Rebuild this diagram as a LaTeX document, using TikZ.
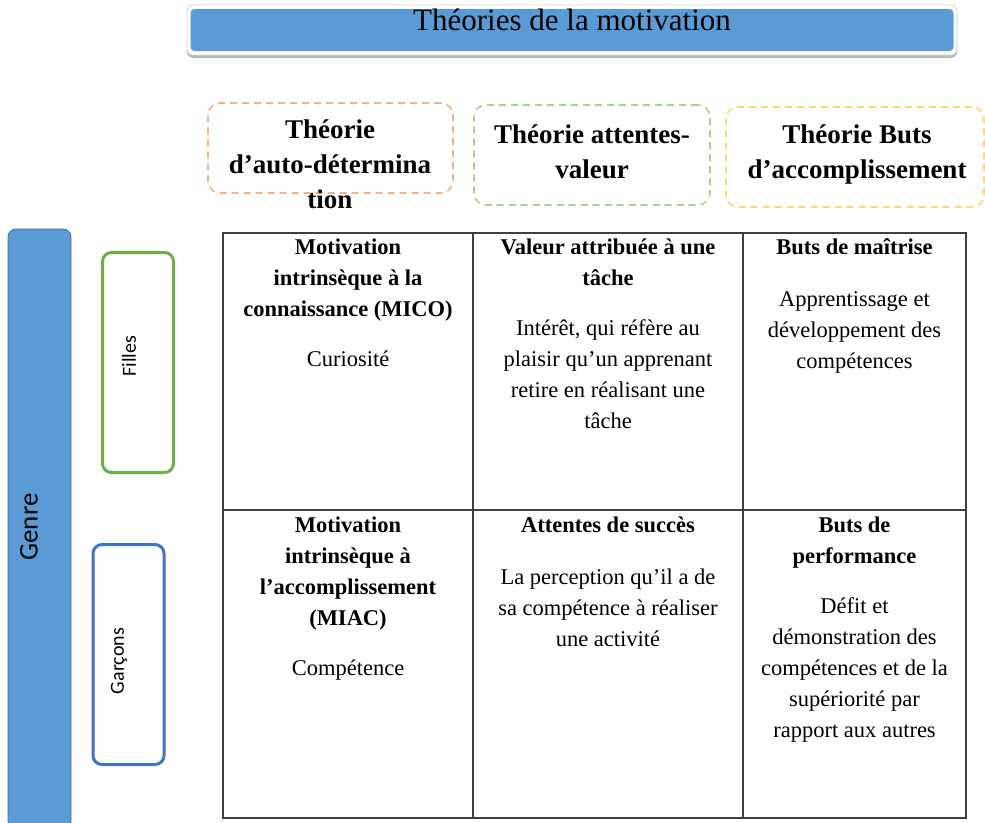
\documentclass[tikz,border=0pt]{standalone}
\usepackage{fontspec}
\setmainfont{Liberation Serif}
\newfontfamily\calibrifont{Carlito}
\usetikzlibrary{positioning, calc, shadows}
\definecolor{barblue}{HTML}{5B9BD5}
\definecolor{baredge}{HTML}{41719C}
\definecolor{fillegreen}{HTML}{70AD47}
\definecolor{garconblue}{HTML}{4472C4}
\definecolor{sdtorange}{HTML}{F4B183}
\definecolor{evgreen}{HTML}{A9D18E}
\definecolor{butyellow}{HTML}{FFD966}
\definecolor{gridgray}{HTML}{404040}

\begin{document}
\begin{tikzpicture}[x=1pt, y=-1pt,
  titleframe/.style={rectangle, rounded corners=6pt, draw=gray!35, line width=0.8pt, fill=white, minimum width=770pt, minimum height=50pt, inner sep=0pt, drop shadow={shadow xshift=0pt, shadow yshift=-3pt, fill=gray!55, opacity=1}},
  titlebar/.style={rectangle, rounded corners=4pt, fill=barblue, minimum width=763pt, minimum height=42pt, inner sep=0pt},
  headbox/.style={rectangle, rounded corners=12pt, dash pattern=on 7pt off 5pt, line width=1.6pt, inner sep=0pt},
  headtxt/.style={align=center, inner sep=0pt, anchor=north, font=\fontsize{27}{35}\selectfont\bfseries},
  cell/.style={rectangle, draw=gridgray, line width=1.3pt, inner sep=0pt, minimum height=#1},
  celltxt/.style={align=center, inner sep=0pt, anchor=north, font=\fontsize{22.5}{31}\selectfont},
  sidebox/.style={rectangle, rounded corners=9pt, line width=3pt, fill=white, inner sep=0pt, minimum width=71pt, minimum height=220pt},
  sidetxt/.style={rotate=90, inner sep=0pt, font=\calibrifont\fontsize{20}{24}\selectfont}
]
  \useasboundingbox (0,0) rectangle (985,822);

  \node[titleframe] (titre) at (572,30) {};
  \node[titlebar] (titrefond) at (572,30) {};
  \node[font=\fontsize{31}{36}\selectfont, inner sep=0pt, anchor=north] (titretxt) at (572,9) {Théories de la motivation};

  \node[headbox, draw=sdtorange, minimum width=245pt, minimum height=90pt] (h1) at (330.5,148) {};
  \node[headbox, draw=evgreen, minimum width=236pt, minimum height=100pt] (h2) at (592,155) {};
  \node[headbox, draw=butyellow, minimum width=258pt, minimum height=100pt] (h3) at (855,157) {};
  \node[headtxt] (h1txt) at (330,120) {Théorie\\d’auto-détermina\\tion};
  \node[headtxt] (h2txt) at (592,125) {Théorie attentes-\\valeur};
  \node[headtxt] (h3txt) at (857,125) {Théorie Buts\\d’accomplissement};

  \node[rectangle, rounded corners=8pt, draw=baredge, fill=barblue, line width=0.8pt, minimum width=63pt, minimum height=600pt, inner sep=0pt] (genre) at (39.5,529) {};
  \node[sidetxt, font=\calibrifont\fontsize{27}{30}\selectfont] (genretxt) at (29,527) {Genre};
  \node[sidebox, draw=fillegreen] (filles) at (138,362.5) {};
  \node[sidetxt] (fillestxt) at (129,356) {Filles};
  \node[sidebox, draw=garconblue] (garcons) at (128.5,654.5) {};
  \node[sidetxt] (garconstxt) at (119,661) {Garçons};

  \node[cell=277pt, minimum width=250pt] (c11) at (348,371.5) {};
  \node[cell=277pt, minimum width=270pt] (c12) at (608,371.5) {};
  \node[cell=277pt, minimum width=223pt] (c13) at (854.5,371.5) {};
  \node[cell=308pt, minimum width=250pt] (c21) at (348,664) {};
  \node[cell=308pt, minimum width=270pt] (c22) at (608,664) {};
  \node[cell=308pt, minimum width=223pt] (c23) at (854.5,664) {};

  \node[celltxt, below=6pt of c11.north] (t11) {\textbf{Motivation}\\\textbf{intrinsèque à la}\\\textbf{connaissance (MICO)}\\[19pt]Curiosité};
  \node[celltxt, below=6pt of c12.north] (t12) {\textbf{Valeur attribuée à une}\\\textbf{tâche}\\[19pt]Intérêt, qui réfère au\\plaisir qu’un apprenant\\retire en réalisant une\\tâche};
  \node[celltxt, below=6pt of c13.north] (t13) {\textbf{Buts de maîtrise}\\[21pt]Apprentissage et\\développement des\\compétences};
  \node[celltxt, below=7pt of c21.north] (t21) {\textbf{Motivation}\\\textbf{intrinsèque à}\\\textbf{l’accomplissement}\\\textbf{(MIAC)}\\[19pt]Compétence};
  \node[celltxt, below=7pt of c22.north] (t22) {\textbf{Attentes de succès}\\[21pt]La perception qu’il a de\\sa compétence à réaliser\\une activité};
  \node[celltxt, below=7pt of c23.north] (t23) {\textbf{Buts de}\\\textbf{performance}\\[19pt]Défit et\\démonstration des\\compétences et de la\\supériorité par\\rapport aux autres};
\end{tikzpicture}
\end{document}
